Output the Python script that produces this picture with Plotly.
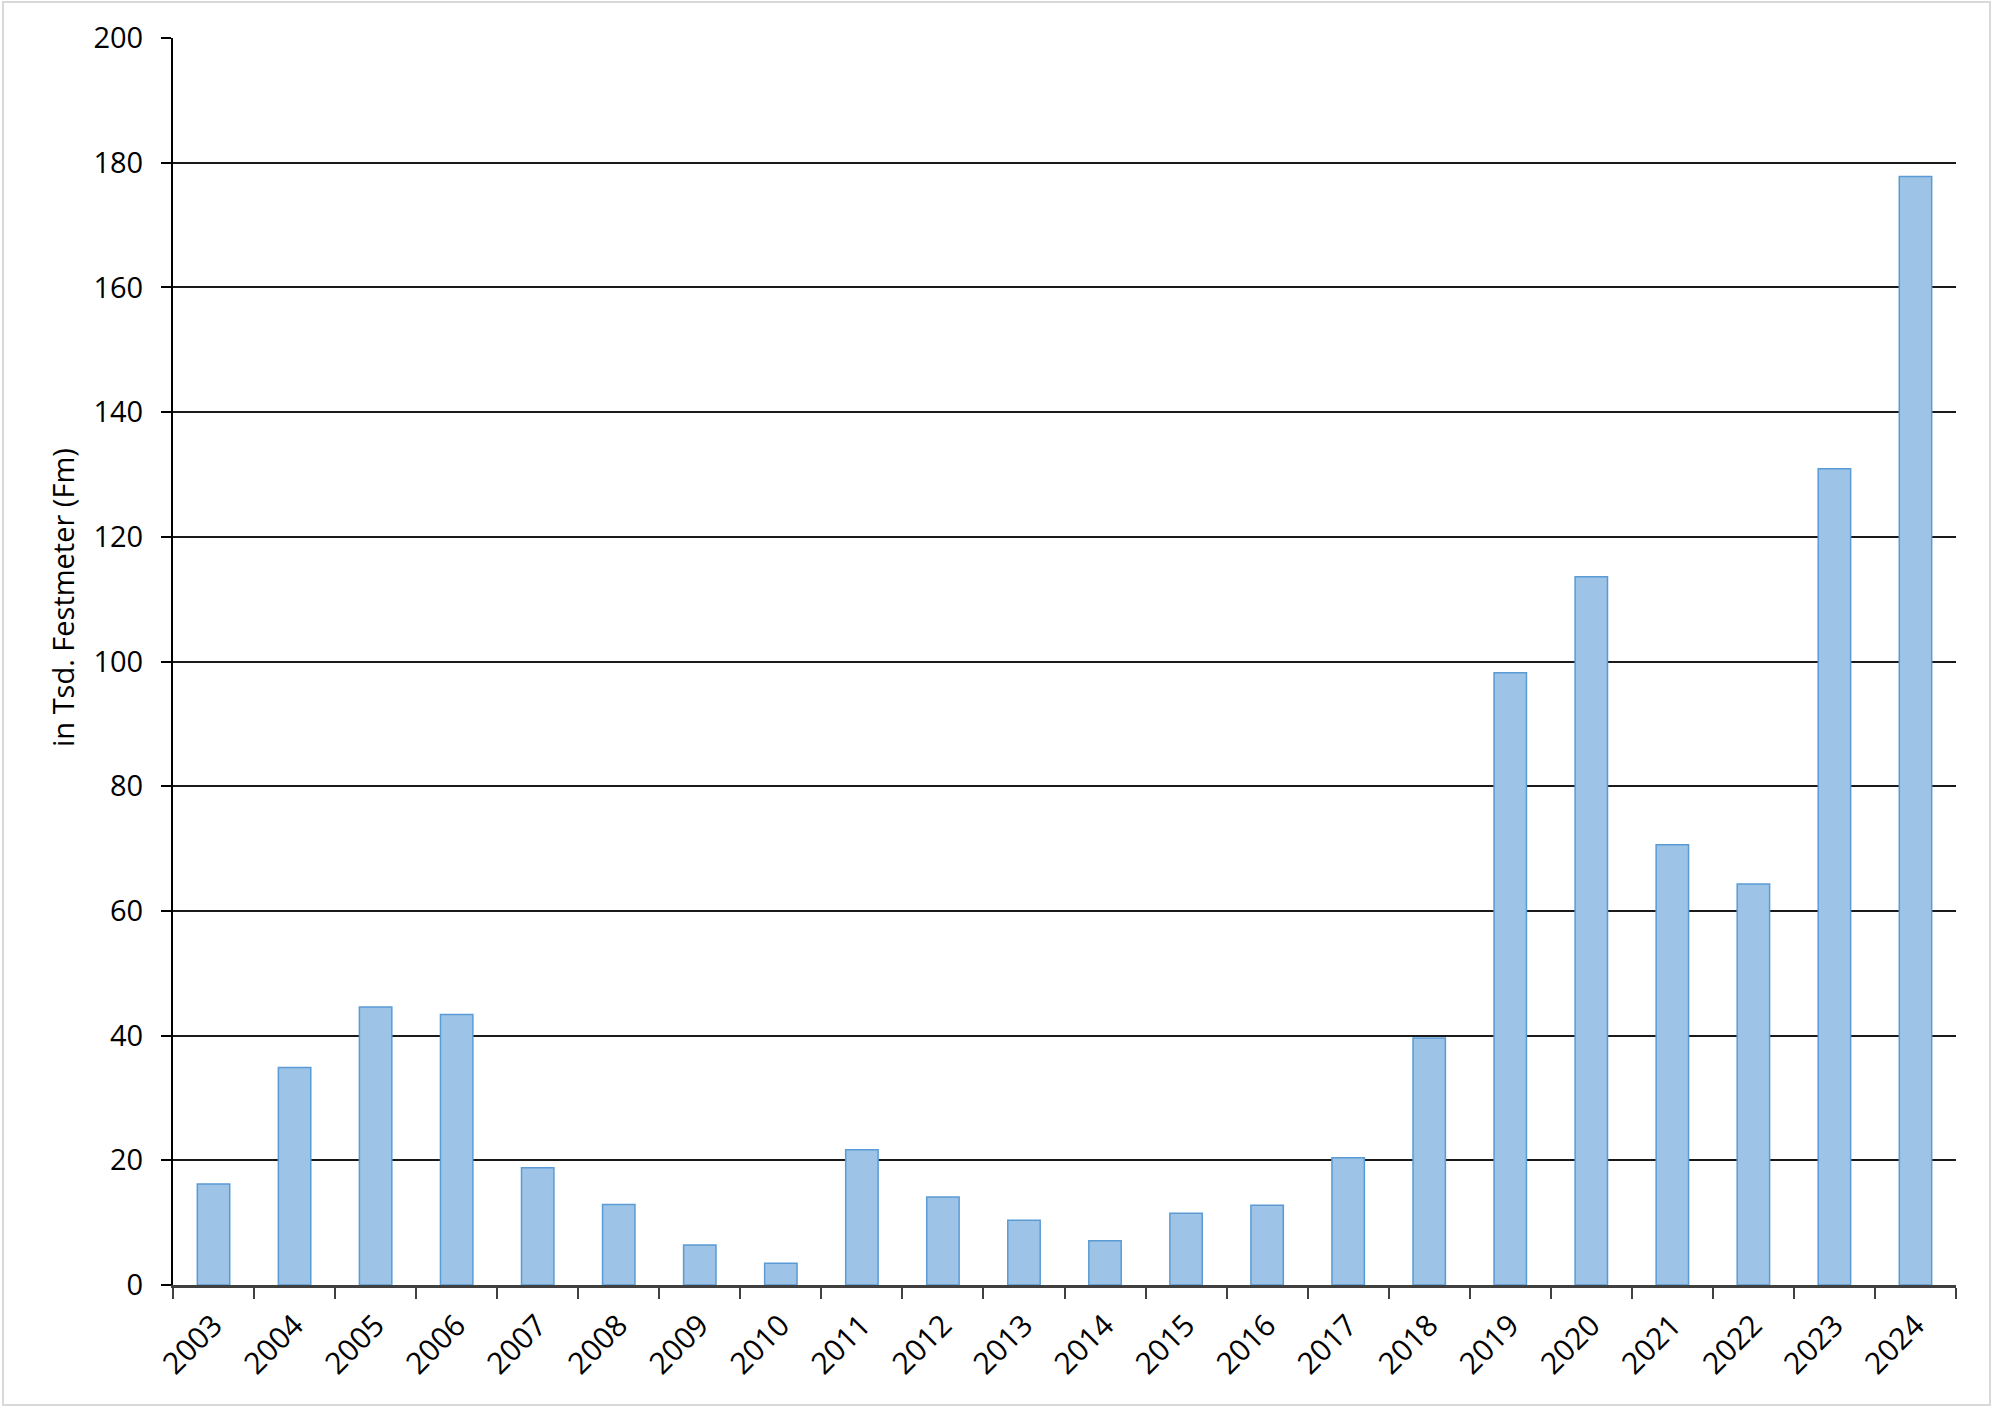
import plotly.graph_objects as go

years = [str(y) for y in range(2003, 2025)]
values = [16.2, 34.9, 44.6, 43.4, 18.8, 12.9, 6.4, 3.5, 21.7, 14.1, 10.4,
          7.1, 11.5, 12.8, 20.4, 39.6, 98.2, 113.6, 70.6, 64.3, 130.9, 177.8]
y_title = "in Tsd. Festmeter (Fm)"
y_ticks = list(range(0, 201, 20))

FONT = "'Open Sans', Lato, sans-serif"

fig = go.Figure(go.Bar(
    x=years, y=values,
    marker=dict(color="#9DC3E6", line=dict(color="#5B9BD5", width=1.5)),
))

W, H = 2000, 1423
L, R, T, B = 173, 44, 38, 138
pw, ph = W - L - R, H - T - B

fig.update_layout(
    width=W, height=H,
    margin=dict(l=L, r=R, t=T, b=B, pad=0),
    paper_bgcolor="white", plot_bgcolor="white",
    bargap=0.6, showlegend=False,
    font=dict(family=FONT, size=29, color="black"),
    shapes=[dict(type="rect", xref="paper", yref="paper",
                 x0=(3 - L) / pw, x1=(1990 - L) / pw,
                 y0=(H - B - 1405) / ph, y1=(H - B - 2) / ph,
                 line=dict(color="#D9D9D9", width=2), fillcolor="rgba(0,0,0,0)",
                 layer="below")],
    annotations=[dict(text=y_title, xref="paper", yref="paper",
                      x=(62 - L) / pw, y=(H - B - 598) / ph,
                      xanchor="center", yanchor="middle",
                      textangle=-90, showarrow=False,
                      font=dict(family=FONT, size=29, color="black"))],
)

fig.update_xaxes(
    type="category", tickangle=-45, tickson="boundaries",
    ticks="outside", ticklen=11, tickwidth=2, tickcolor="#404040",
    showline=True, linecolor="#404040", linewidth=2.5,
    showgrid=False, ticklabelstandoff=8,
    tickfont=dict(family=FONT, size=30, color="black"),
)
fig.update_yaxes(
    range=[0, 200], tickvals=y_ticks,
    ticks="outside", ticklen=10, tickwidth=2, tickcolor="black",
    showline=True, linecolor="black", linewidth=2,
    showgrid=True, gridcolor="#1a1a1a", gridwidth=1.6,
    zeroline=False, ticklabelstandoff=12,
    tickfont=dict(family=FONT, size=29, color="black"),
)

fig.write_html("out.html", config={"displayModeBar": False},
               post_script="document.body.style.margin='0';")
